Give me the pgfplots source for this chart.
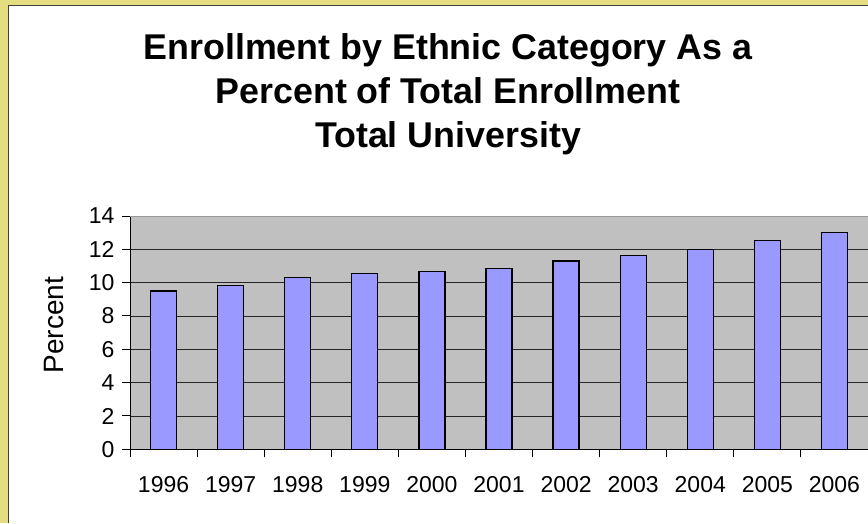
\documentclass[border=0pt]{standalone}
\usepackage{fontspec}
\setmainfont{Liberation Sans}
\usepackage{pgfplots}
\pgfplotsset{compat=1.18}
\definecolor{gold}{RGB}{228,222,128}
\definecolor{barblue}{RGB}{153,153,255}
\definecolor{plotgray}{RGB}{192,192,192}
\begin{document}
\begin{tikzpicture}
\path[use as bounding box] (0,0) rectangle (868pt,523pt);
\fill[gold] (0,0) rectangle (868pt,523pt);
\fill[white] (8.5pt,0) rectangle (868pt,517.5pt);
\draw[black!75, line width=1.5pt] (8.5pt,0) -- (8.5pt,517.5pt) -- (868pt,517.5pt);
\node[anchor=base, font=\bfseries\fontsize{35.8}{36}\selectfont] at (448pt,463pt) {Enrollment by Ethnic Category As a};
\node[anchor=base, font=\bfseries\fontsize{35.8}{36}\selectfont] at (448pt,419.7pt) {Percent of Total Enrollment};
\node[anchor=base, font=\bfseries\fontsize{35.8}{36}\selectfont] at (448pt,375pt) {Total University};
\node[anchor=base, rotate=90, font=\fontsize{28}{28}\selectfont] at (63pt,198pt) {Percent};
\begin{axis}[
  at={(130pt,73.7pt)}, anchor=south west,
  scale only axis, width=738pt, height=233.3pt,
  xmin=-0.5, xmax=10.5, ymin=0, ymax=14,
  axis x line*=bottom, axis y line*=left,
  axis line style={black, line width=1pt, -},
  axis background/.style={fill=plotgray},
  ytick={0,2,...,12}, extra y ticks={14},
  extra y tick style={grid style={black!40, line width=0.8pt}},
  ymajorgrids, grid style={black!85, line width=0.8pt},
  xtick={-0.5,0.5,...,10.5},
  xticklabels={1996,1997,1998,1999,2000,2001,2002,2003,2004,2005,2006},
  x tick label as interval,
  tick align=outside, major tick length=8pt,
  tick style={black, line width=1pt},
  /pgf/number format/assume math mode=true,
  tick label style={font=\fontsize{23}{23}\selectfont},
  xticklabel style={anchor=base, yshift=-35pt},
  yticklabel style={xshift=-4pt},
  ybar, bar width=26pt,
  clip=false,
]
\addplot[fill=barblue, draw=black, line width=1.3pt] coordinates {
 (0,9.5) (1,9.85) (2,10.3) (3,10.55) (4,10.65) (5,10.87) (6,11.3) (7,11.65) (8,12.0) (9,12.55) (10,13.0)
};
\end{axis}
\end{tikzpicture}
\end{document}
